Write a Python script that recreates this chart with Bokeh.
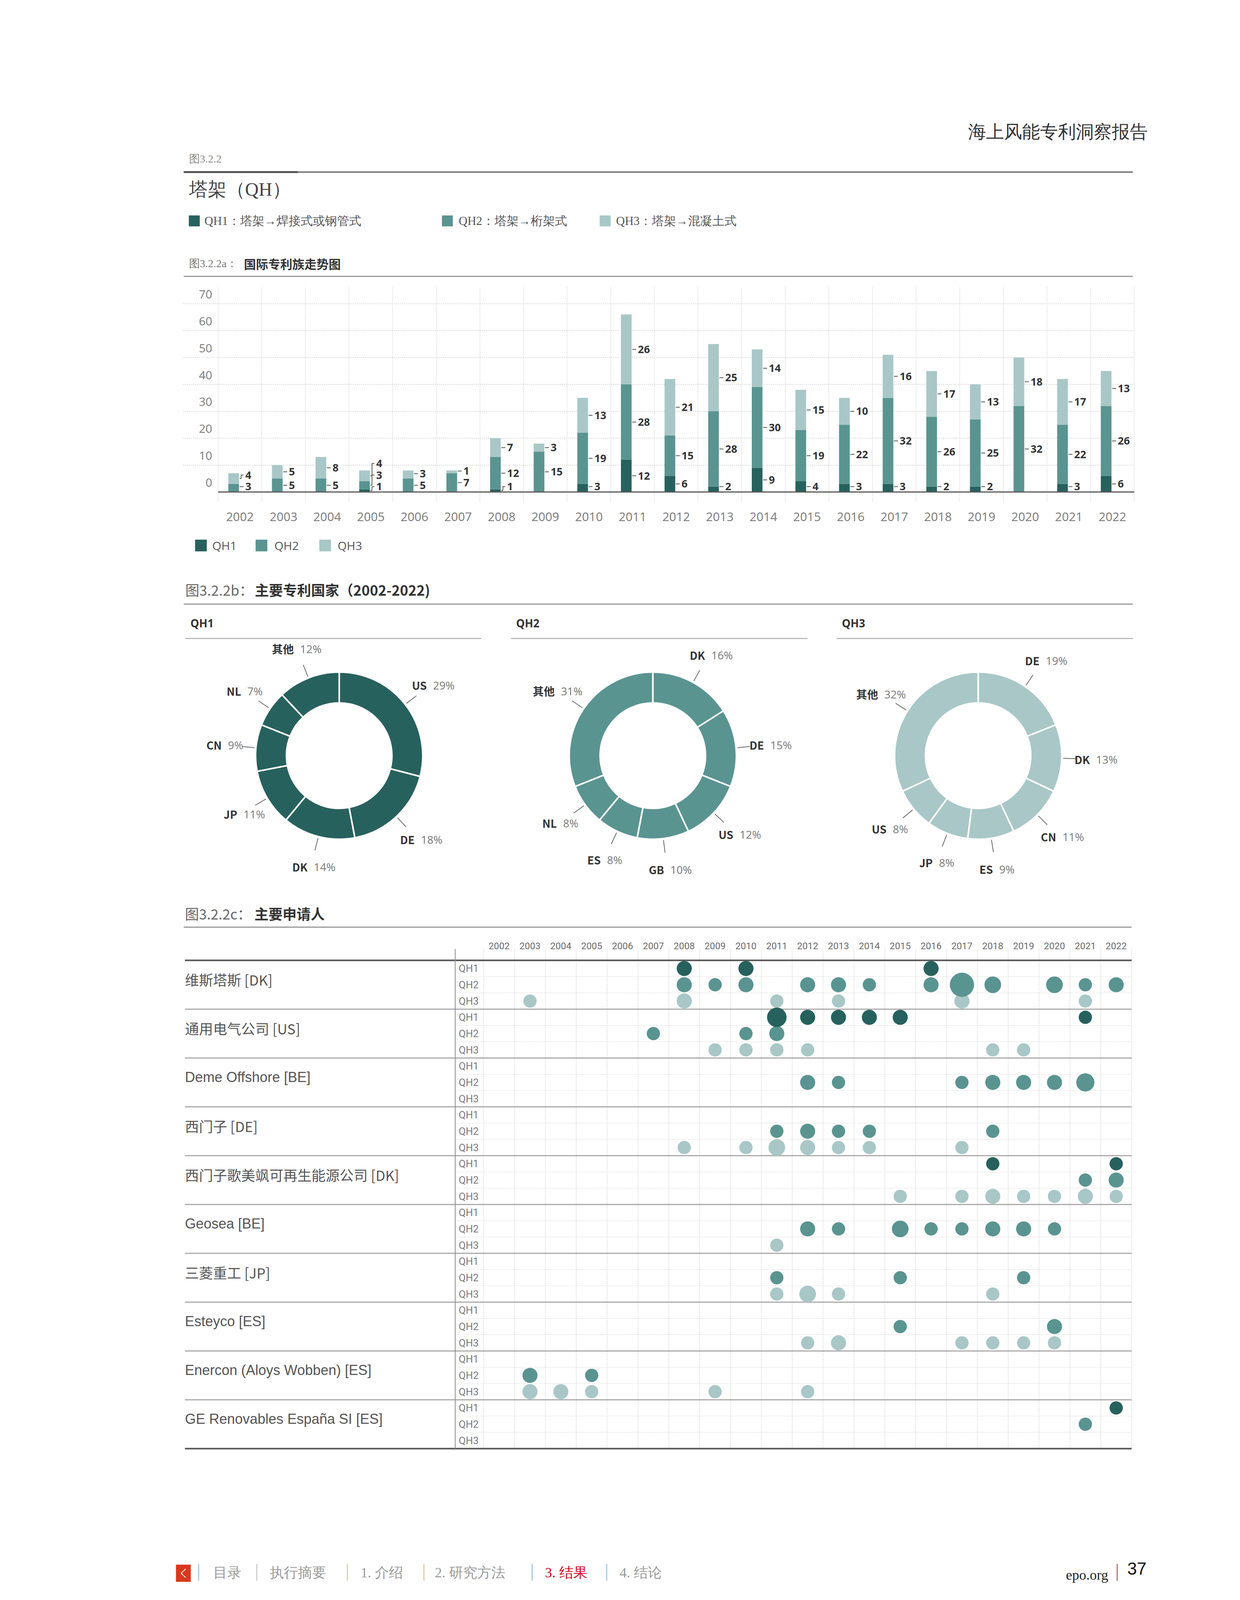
import math
from bokeh.plotting import figure
from bokeh.models import ColumnDataSource, Range1d
from bokeh.layouts import column
from bokeh.core.properties import value
from bokeh.embed import file_html
from bokeh.resources import INLINE

# ===================== DATA =====================
years = list(range(2002, 2023))
qh1 = [0, 0, 0, 1, 0, 0, 1, 0, 3, 12, 6, 2, 9, 4, 3, 3, 2, 2, 0, 3, 6]
qh2 = [3, 5, 5, 3, 5, 7, 12, 15, 19, 28, 15, 28, 30, 19, 22, 32, 26, 25, 32, 22, 26]
qh3 = [4, 5, 8, 4, 3, 1, 7, 3, 13, 26, 21, 25, 14, 15, 10, 16, 17, 13, 18, 17, 13]
y_ticks = [0, 10, 20, 30, 40, 50, 60, 70]
series = ["QH1", "QH2", "QH3"]
series_desc = ["QH1：塔架→焊接式或钢管式", "QH2：塔架→桁架式", "QH3：塔架→混凝土式"]

qh1_countries = ["US", "DE", "DK", "JP", "CN", "NL", "其他"]
qh1_shares = [29, 18, 14, 11, 9, 7, 12]
qh2_countries = ["DK", "DE", "US", "GB", "ES", "NL", "其他"]
qh2_shares = [16, 15, 12, 10, 8, 8, 31]
qh3_countries = ["DE", "DK", "CN", "ES", "JP", "US", "其他"]
qh3_shares = [19, 13, 11, 9, 8, 8, 32]

applicants = ["维斯塔斯 [DK]", "通用电气公司 [US]", "Deme Offshore [BE]", "西门子 [DE]",
              "西门子歌美飒可再生能源公司 [DK]", "Geosea [BE]", "三菱重工 [JP]", "Esteyco [ES]",
              "Enercon (Aloys Wobben) [ES]", "GE Renovables España SI [ES]"]
vestas = {"QH1": {2008: 2, 2010: 2, 2016: 2},
          "QH2": {2008: 2, 2009: 1, 2010: 2, 2012: 2, 2013: 2, 2014: 1, 2016: 2, 2017: 9,
                  2018: 3, 2020: 3, 2021: 1, 2022: 2},
          "QH3": {2003: 1, 2008: 2, 2011: 1, 2013: 1, 2017: 2, 2021: 1}}
ge = {"QH1": {2011: 5, 2012: 2, 2013: 2, 2014: 2, 2015: 2, 2021: 1},
      "QH2": {2007: 1, 2010: 1, 2011: 2},
      "QH3": {2009: 1, 2010: 1, 2011: 1, 2012: 1, 2018: 1, 2019: 1}}
deme = {"QH1": {}, "QH2": {2012: 2, 2013: 1, 2017: 1, 2018: 2, 2019: 2, 2020: 2, 2021: 4}, "QH3": {}}
siemens = {"QH1": {}, "QH2": {2011: 1, 2012: 2, 2013: 1, 2014: 1, 2018: 1},
           "QH3": {2008: 1, 2010: 1, 2011: 3, 2012: 2, 2013: 1, 2014: 1, 2017: 1}}
sgre = {"QH1": {2018: 1, 2022: 1}, "QH2": {2021: 1, 2022: 2},
        "QH3": {2015: 1, 2017: 1, 2018: 2, 2019: 1, 2020: 1, 2021: 2, 2022: 1}}
geosea = {"QH1": {}, "QH2": {2012: 2, 2013: 1, 2015: 3, 2016: 1, 2017: 1, 2018: 2, 2019: 2, 2020: 1},
          "QH3": {2011: 1}}
mhi = {"QH1": {}, "QH2": {2011: 1, 2015: 1, 2019: 1}, "QH3": {2011: 1, 2012: 3, 2013: 1, 2018: 1}}
esteyco = {"QH1": {}, "QH2": {2015: 1, 2020: 2},
           "QH3": {2012: 1, 2013: 2, 2017: 1, 2018: 1, 2019: 1, 2020: 1}}
enercon = {"QH1": {}, "QH2": {2003: 2, 2005: 1}, "QH3": {2003: 2, 2004: 2, 2005: 1, 2009: 1, 2012: 1}}
ge_es = {"QH1": {2022: 1}, "QH2": {2021: 1}, "QH3": {}}
applicant_counts = [vestas, ge, deme, siemens, sgre, geosea, mhi, esteyco, enercon, ge_es]

nav_items = ["目录", "执行摘要", "1. 介绍", "2. 研究方法", "3. 结果", "4. 结论"]

# ===================== STYLE =====================
COLORS = ["#27615D", "#5A9491", "#A9C7C7"]
CJK = "Noto Sans CJK SC"
LAT = "Open Sans"
SERIF = "Liberation Serif"
W = 3159


def make_fig(h, xr, yr):
    p = figure(width=W, height=h, x_range=xr, y_range=yr, output_backend="svg",
               toolbar_location=None, tools="", x_axis_type=None, y_axis_type=None,
               min_border=0, outline_line_color=None)
    p.background_fill_color = "white"
    p.border_fill_color = "white"
    return p


def txt(p, x, y, s, size, color, font=CJK, style="normal", align="left", baseline="middle"):
    p.text(x=[x], y=[y], text=[s], text_font=value(font), text_font_size=f"{size}px",
           text_color=color, text_font_style=style, text_align=align, text_baseline=baseline)


# ===================== A: header =====================
pA = make_fig(727, Range1d(8, 3167), Range1d(-735, -8))
txt(pA, 2946, -345, "海上风能专利洞察报告", 46, "#333333", font=SERIF, align="right")
txt(pA, 491, -414, "图3.2.2", 28, "#8a8a8a", font=SERIF)
pA.line([478, 2908], [-448, -448], line_color="#7a7a7a", line_width=4)
pA.line([478, 770], [-448, -448], line_color="#555555", line_width=5)
txt(pA, 491, -492, "塔架（QH）", 48, "#444444", font=SERIF)
leg_sq_x = [505, 1153, 1557]
leg_tx_x = [531, 1182, 1585]
for i in range(3):
    pA.scatter([leg_sq_x[i]], [-573], marker="square", size=28, fill_color=COLORS[i], line_color=None)
    txt(pA, leg_tx_x[i], -573, series_desc[i], 31, "#555555", font=SERIF)
txt(pA, 491, -682, "图3.2.2a：", 28, "#777777", font=SERIF)
txt(pA, 632, -682, "国际专利族走势图", 31, "#333333", style="bold")
pA.line([478, 2908], [-715, -715], line_color="#9a9a9a", line_width=3)

# ===================== B: bar chart =====================
X0, XS = 566.0, 111.7     # px of first category edge, px per category
Y0, YS = 1267.0, 6.886    # px of zero line, px per unit
BAR_OFF, BAR_W = 0.356, 0.245


def bxp(P):
    return (P - X0) / XS


def byp(P):
    return (Y0 - P) / YS


n = len(years)
pB = make_fig(710, Range1d(bxp(8), bxp(3167)), Range1d(byp(1445), byp(735)))
gy = y_ticks[1:]
pB.segment(x0=[bxp(477)] * len(gy), y0=gy, x1=[n] * len(gy), y1=gy,
           line_color="#c9c9c9", line_width=2, line_dash="2 3")
vx = list(range(n + 1))
pB.segment(x0=vx, y0=[byp(1291)] * len(vx), x1=vx, y1=[byp(741)] * len(vx),
           line_color="#d2d2d2", line_width=2, line_dash="2 3")
pB.text(x=[bxp(551)] * len(y_ticks), y=[t + 24 / YS for t in y_ticks], text=[str(t) for t in y_ticks],
        text_font=value(LAT), text_font_size="30px", text_color="#7a7a7a",
        text_align="right", text_baseline="middle")
pB.text(x=[i + 0.5 for i in range(n)], y=[byp(1330)] * n, text=[str(y) for y in years],
        text_font=value(LAT), text_font_size="31px", text_color="#7a7a7a",
        text_align="center", text_baseline="middle")

src = ColumnDataSource(dict(x=[i + BAR_OFF for i in range(n)], QH1=qh1, QH2=qh2, QH3=qh3))
pB.vbar_stack(series, x="x", width=BAR_W, fill_color=COLORS, line_color=None, source=src)
pB.segment(x0=[0], y0=[0], x1=[n], y1=[0], line_color="#5a5a5a", line_width=3)

lab_x, lab_y, lab_t, lxs, lys = [], [], [], [], []
for i in range(n):
    xe = i + BAR_OFF + BAR_W / 2 + 0.014
    bottom, prev = 0.0, -1e9
    for v in (qh1[i], qh2[i], qh3[i]):
        if v > 0:
            mid = bottom + v / 2
            ly = max(mid, 2.0, prev + 4.3)
            prev = ly
            if abs(ly - mid) < 1.2:
                lxs.append([xe, xe + 0.09]); lys.append([ly, ly])
            else:
                lxs.append([xe, xe + 0.035, xe + 0.035, xe + 0.09]); lys.append([mid, mid, ly, ly])
            lab_x.append(xe + 0.13); lab_y.append(ly); lab_t.append(str(v))
        bottom += v
pB.multi_line(xs=lxs, ys=lys, line_color="#555555", line_width=2)
pB.text(x=lab_x, y=lab_y, text=lab_t, text_font=value(LAT), text_font_size="27px",
        text_font_style="bold", text_color="#333333", text_align="left", text_baseline="middle")

leg_y = byp(1404)
bl_sq = [522, 677, 840]
bl_tx = [551, 710, 872]
for i in range(3):
    pB.scatter([bxp(bl_sq[i])], [leg_y], marker="square", size=30, fill_color=COLORS[i], line_color=None)
    pB.text(x=[bxp(bl_tx[i])], y=[leg_y], text=[series[i]], text_font=value(LAT), text_font_size="30px",
            text_color="#555555", text_align="left", text_baseline="middle")

# ===================== C: donuts =====================
pC = make_fig(855, Range1d(8, 3167), Range1d(-2300, -1445))
txt(pC, 482, -1516, "图3.2.2b：", 36, "#666666")
txt(pC, 660, -1516, "主要专利国家（2002-2022)", 36, "#333333", style="bold")
pC.line([478, 2908], [-1554, -1554], line_color="#9a9a9a", line_width=3)
donuts = [(qh1_countries, qh1_shares), (qh2_countries, qh2_shares), (qh3_countries, qh3_shares)]
donut_cx = [876, 1679, 2512]
head_x = [(482, 1240), (1316, 2075), (2150, 2908)]
CY = -1942
R_IN, R_OUT = 135, 214
for k, (names, shares) in enumerate(donuts):
    cx = donut_cx[k]
    txt(pC, head_x[k][0] + 13, -1602, series[k], 28, "#333333", font=LAT, style="bold")
    pC.line(list(head_x[k]), [-1642, -1642], line_color="#9a9a9a", line_width=2)
    total = float(sum(shares))
    cum = 0.0
    st, en, mids = [], [], []
    for s in shares:
        a0 = cum / total
        cum += s
        a1 = cum / total
        st.append(math.pi / 2 - 2 * math.pi * a1)
        en.append(math.pi / 2 - 2 * math.pi * a0)
        mids.append(math.pi * (a0 + a1))
    wsrc = ColumnDataSource(dict(x=[cx] * len(shares), y=[CY] * len(shares), s=st, e=en))
    pC.annular_wedge(x="x", y="y", inner_radius=R_IN, outer_radius=R_OUT, start_angle="s",
                     end_angle="e", fill_color=COLORS[k], line_color="white", line_width=4, source=wsrc)
    sx = [cx + (R_OUT + 4) * math.sin(m) for m in mids]
    sy = [CY + (R_OUT + 4) * math.cos(m) for m in mids]
    ex = [cx + (R_OUT + 36) * math.sin(m) for m in mids]
    ey = [CY + (R_OUT + 36) * math.cos(m) for m in mids]
    pC.segment(x0=sx, y0=sy, x1=ex, y1=ey, line_color="#6a6a6a", line_width=2)
    lx = [cx + (R_OUT + 80) * math.sin(m) for m in mids]
    ly = [CY + (R_OUT + 80) * math.cos(m) for m in mids]
    pC.text(x=[v - 8 for v in lx], y=ly, text=names, text_font=value(CJK), text_font_size="28px",
            text_font_style="bold", text_color="#333333", text_align="right", text_baseline="middle")
    pC.text(x=[v + 8 for v in lx], y=ly, text=[f"{s}%" for s in shares], text_font=value(LAT),
            text_font_size="28px", text_color="#777777", text_align="left", text_baseline="middle")

# ===================== D: bubble matrix =====================
COL0, COLW = 1285.5, 79.0
ROW0, ROWH = 2466.0, 125.0 / 3


def dxp(P):
    return 2002 + (P - COL0) / COLW


def dyp(P):
    return (P - ROW0) / ROWH - 0.5


pD = make_fig(1460, Range1d(dxp(8), dxp(3167)), Range1d(dyp(3760), dyp(2300)))
x_left, x_right, x_sep = dxp(481), years[-1] + 0.5, dxp(1173)
nrows = 3 * len(applicants)
txt(pD, dxp(481), dyp(2345), "图3.2.2c：", 36, "#666666")
txt(pD, dxp(659), dyp(2345), "主要申请人", 36, "#333333", style="bold")
pD.segment(x0=[dxp(478)], y0=[dyp(2381)], x1=[x_right], y1=[dyp(2381)], line_color="#9a9a9a", line_width=3)
pD.text(x=years, y=[dyp(2429)] * n, text=[str(y) for y in years], text_font=value("Roboto"),
        text_font_size="24px", text_color="#6a6a6a", text_align="center", text_baseline="middle")
bx_lines = [y - 0.5 for y in years] + [years[-1] + 0.5]
pD.segment(x0=bx_lines, y0=[dyp(2437)] * len(bx_lines), x1=bx_lines, y1=[nrows - 0.5] * len(bx_lines),
           line_color="#d0d0d0", line_width=2, line_dash="2 3")
sub_r = [3 * k + d for k in range(len(applicants)) for d in (0.5, 1.5)]
pD.segment(x0=[x_sep] * len(sub_r), y0=sub_r, x1=[x_right] * len(sub_r), y1=sub_r,
           line_color="#c4c4c4", line_width=2, line_dash="1 3")
mid_r = [3 * k - 0.5 for k in range(1, len(applicants))]
pD.segment(x0=[x_left] * len(mid_r), y0=mid_r, x1=[x_right] * len(mid_r), y1=mid_r,
           line_color="#ababab", line_width=3)
pD.segment(x0=[x_left, x_left], y0=[-0.5, nrows - 0.5], x1=[x_right, x_right], y1=[-0.5, nrows - 0.5],
           line_color="#555555", line_width=4)
pD.segment(x0=[x_sep], y0=[dyp(2437)], x1=[x_sep], y1=[nrows - 0.5], line_color="#8a8a8a", line_width=2)
pD.text(x=[dxp(1182)] * nrows, y=list(range(nrows)), text=[series[r % 3] for r in range(nrows)],
        text_font=value("Roboto"), text_font_size="26px", text_color="#7a7a7a",
        text_align="left", text_baseline="middle")


def is_cjk(s):
    return any("\u4e00" <= ch <= "\u9fff" for ch in s)


for flag, font in ((True, CJK), (False, "Liberation Sans")):
    idx = [k for k, a in enumerate(applicants) if is_cjk(a) == flag]
    pD.text(x=[x_left] * len(idx), y=[3 * k + 1 - 14 / ROWH for k in idx], text=[applicants[k] for k in idx],
            text_font=value(font), text_font_size="36px", text_color="#555555",
            text_align="left", text_baseline="middle")

for q in (2, 1, 0):
    bxs, bys, bsz = [], [], []
    for k, counts in enumerate(applicant_counts):
        for yr, c in counts[series[q]].items():
            bxs.append(yr)
            bys.append(3 * k + q)
            bsz.append(math.sqrt(820 + 336 * c))
    pD.scatter(x=bxs, y=bys, size=bsz, fill_color=COLORS[q], line_color=None)

# ===================== E: footer (kept inside the photographed height) =====================
pE = make_fig(320, Range1d(8, 3167), Range1d(-4080, -3760))
FY = 4033
pE.quad(left=[458], right=[496], top=[-(FY - 20)], bottom=[-(FY + 24)], fill_color="#d9381e", line_color=None)
pE.line([483, 471, 483], [-(FY - 9), -(FY + 2), -(FY + 13)], line_color="white", line_width=2)
nav_x = [553, 698, 931, 1121, 1403, 1594]
sep_x = [516, 665, 897, 1093, 1370, 1561]
sep_c = ["#7fb0dc", "#b8b8b8", "#d2b48c", "#d2b48c", "#7fb0dc", "#7fb0dc"]
pE.segment(x0=sep_x, y0=[-(FY - 22)] * 6, x1=sep_x, y1=[-(FY + 21)] * 6, line_color=sep_c, line_width=2)
for i, item in enumerate(nav_items):
    txt(pE, nav_x[i], -FY, item, 36, "#d0021b" if item.startswith("3") else "#9a9a9a", font=SERIF)
txt(pE, 2845, -(FY + 6), "epo.org", 36, "#222222", font=SERIF, align="right")
pE.segment(x0=[2868], y0=[-(FY - 22)], x1=[2868], y1=[-(FY + 21)], line_color="#8b3a2a", line_width=2)
txt(pE, 2894, -(FY - 10), "37", 44, "#111111", font="Liberation Sans")

layout = column(pA, pB, pC, pD, pE, spacing=0)
open("out.html", "w").write(file_html(layout, INLINE))
